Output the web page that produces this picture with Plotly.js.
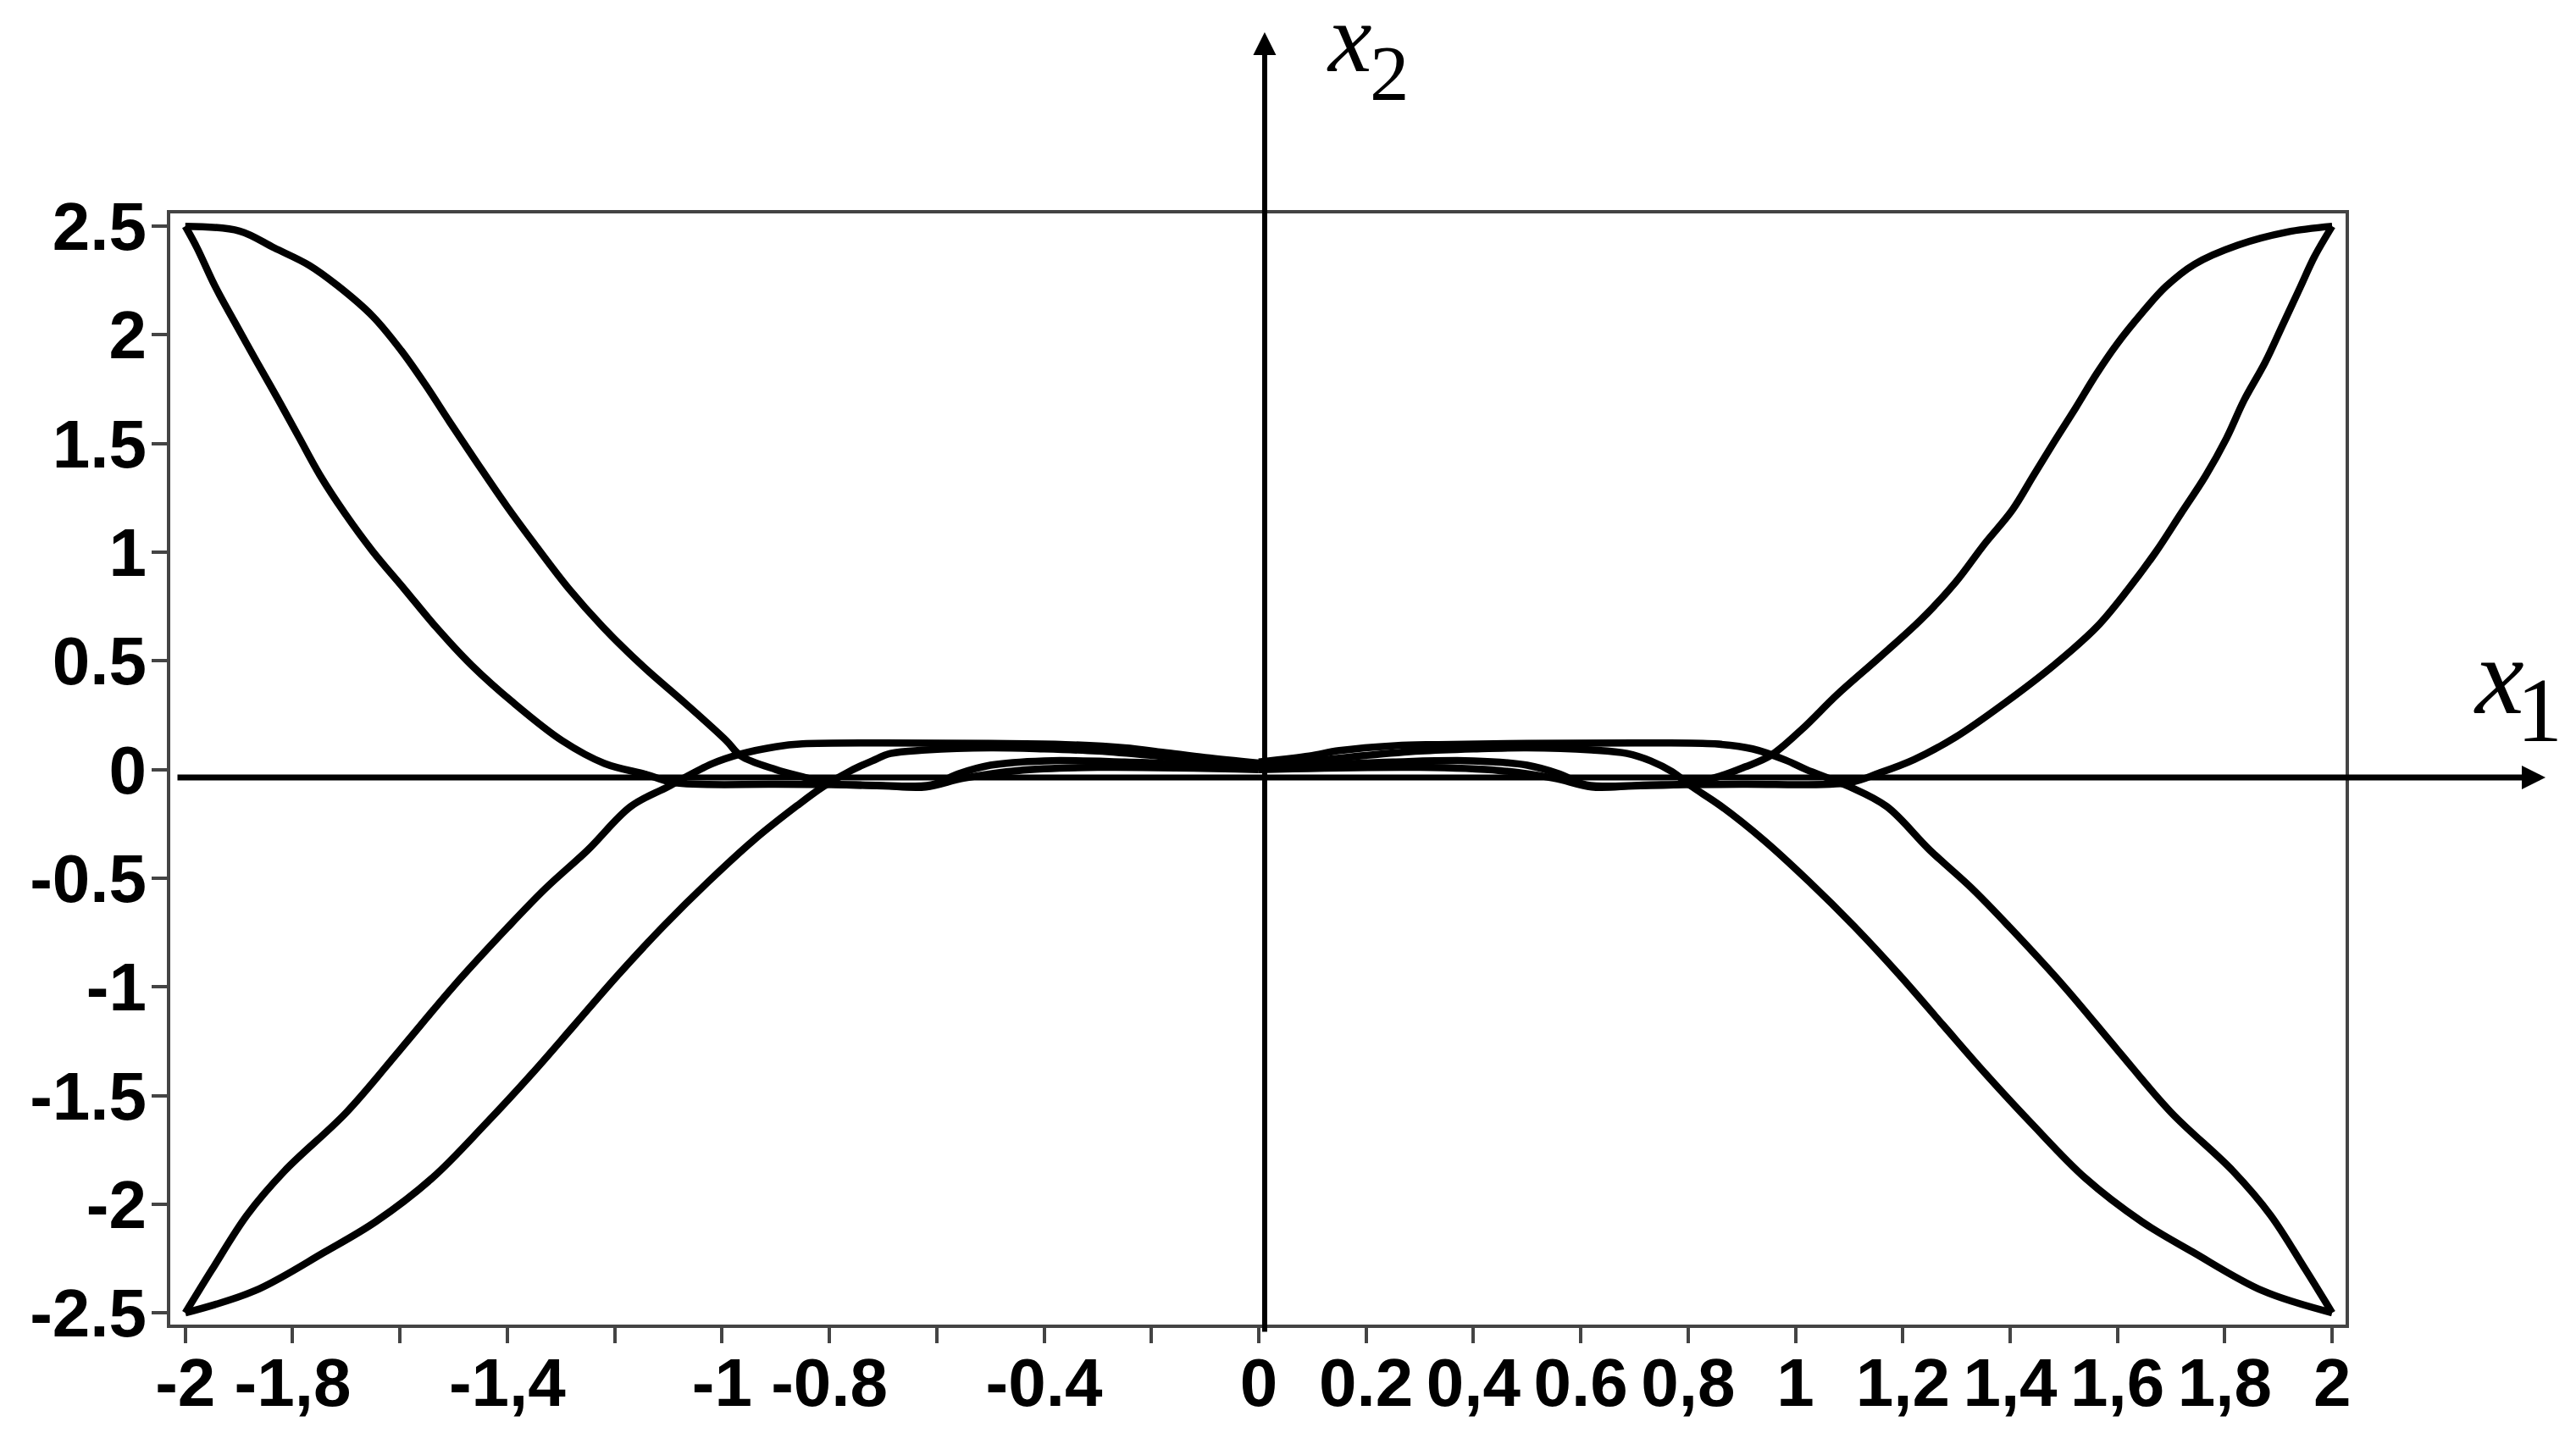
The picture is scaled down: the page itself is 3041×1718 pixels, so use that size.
<!DOCTYPE html>
<html>
<head>
<meta charset="utf-8">
<script src="https://cdn.plot.ly/plotly-3.0.1.min.js"></script>
<style>body{margin:0;background:#fff;}</style>
</head>
<body>
<div id="phase" style="width:3041px;height:1718px;"></div>
<script>
// tick positions and labels as printed on the figure
var xTickVals = [-2, -1.8, -1.6, -1.4, -1.2, -1, -0.8, -0.6, -0.4, -0.2, 0,
                 0.2, 0.4, 0.6, 0.8, 1, 1.2, 1.4, 1.6, 1.8, 2];
var xTickText = ["-2", "-1,8", "", "-1,4", "", "-1", "-0.8", "", "-0.4", "", "0",
                 "0.2", "0,4", "0.6", "0,8", "1", "1,2", "1,4", "1,6", "1,8", "2"];
var yTickVals = [-2.5, -2, -1.5, -1, -0.5, 0, 0.5, 1, 1.5, 2, 2.5];
var yTickText = ["-2.5", "-2", "-1.5", "-1", "-0.5", "0", "0.5", "1", "1.5", "2", "2.5"];

// top-left lobe
var tlInnerX = [-2.0, -1.978, -1.945, -1.906, -1.867, -1.827, -1.788, -1.749, -1.703, -1.651, -1.592,
                -1.533, -1.467, -1.389, -1.298, -1.219, -1.141, -1.09, -0.9, -0.75, -0.61,
                -0.56, -0.5, -0.4, -0.25, 0.0];
var tlInnerY = [2.5, 2.40, 2.226, 2.05, 1.877, 1.703, 1.528, 1.354, 1.18, 1.005, 0.831,
                0.656, 0.481, 0.308, 0.133, 0.028, -0.023, -0.06, -0.068, -0.07, -0.07,
                -0.02, 0.02, 0.04, 0.035, 0.01];
var tlOuterX = [-2.0, -1.899, -1.834, -1.769, -1.716, -1.651, -1.598, -1.553, -1.507, -1.455, -1.402,
                -1.350, -1.285, -1.222, -1.15, -1.07, -0.992, -0.965, -0.90, -0.84, -0.80,
                -0.70, -0.62, -0.55, -0.45, -0.3, 0.0];
var tlOuterY = [2.5, 2.478, 2.40, 2.32, 2.226, 2.086, 1.929, 1.772, 1.598, 1.406, 1.215,
                1.04, 0.831, 0.656, 0.481, 0.308, 0.133, 0.063, 0.0, -0.04, -0.065,
                -0.075, -0.08, -0.04, -0.005, 0.01, 0.0];

// bottom-left lobe
var blOuterX = [-2.0, -1.95, -1.885, -1.815, -1.70, -1.60, -1.50, -1.40, -1.33, -1.25, -1.17,
                -1.10, -1.018, -0.967, -0.90, -0.85, -0.7, -0.5, -0.36, -0.25, -0.18, -0.1, 0.0];
var blOuterY = [-2.5, -2.30, -2.05, -1.847, -1.578, -1.29, -0.997, -0.728, -0.55, -0.37, -0.17,
                -0.078, 0.027, 0.07, 0.105, 0.118, 0.122, 0.12, 0.115, 0.10, 0.08, 0.055, 0.03];
var blInnerX = [-2.0, -1.87, -1.74, -1.645, -1.54, -1.44, -1.355, -1.275, -1.195, -1.11, -1.025,
                -0.94, -0.86, -0.811, -0.76, -0.72, -0.686, -0.62, -0.5, -0.4, -0.3,
                -0.2, -0.1, 0.0];
var blInnerY = [-2.5, -2.398, -2.22, -2.08, -1.88, -1.629, -1.402, -1.176, -0.949, -0.723, -0.515,
                -0.323, -0.166, -0.078, -0.005, 0.04, 0.074, 0.09, 0.1, 0.095, 0.085,
                0.065, 0.04, 0.02];

// top-right lobe
var trOuterX = [2.0, 1.915, 1.824, 1.744, 1.69, 1.645, 1.60, 1.561, 1.522, 1.482, 1.443,
                1.404, 1.352, 1.299, 1.234, 1.156, 1.077, 1.012, 0.953, 0.906, 0.86,
                0.80, 0.70, 0.62, 0.55, 0.45, 0.3, 0.0];
var trOuterY = [2.5, 2.473, 2.413, 2.326, 2.222, 2.099, 1.961, 1.821, 1.664, 1.508, 1.351,
                1.194, 1.037, 0.864, 0.69, 0.515, 0.343, 0.185, 0.063, 0.012, -0.03,
                -0.065, -0.075, -0.08, -0.04, -0.005, 0.01, 0.0];
var trInnerX = [2.0, 1.967, 1.941, 1.908, 1.875, 1.836, 1.803, 1.764, 1.718, 1.672, 1.620,
                1.561, 1.482, 1.391, 1.299, 1.221, 1.156, 1.10, 0.9, 0.75, 0.61,
                0.56, 0.5, 0.4, 0.25, 0.0];
var trInnerY = [2.5, 2.36, 2.222, 2.047, 1.873, 1.70, 1.524, 1.351, 1.177, 1.003, 0.83,
                0.655, 0.481, 0.308, 0.15, 0.046, -0.016, -0.06, -0.068, -0.07, -0.07,
                -0.02, 0.02, 0.04, 0.035, 0.01];

// bottom-right lobe
var brOuterX = [2.0, 1.95, 1.885, 1.815, 1.70, 1.60, 1.50, 1.40, 1.33, 1.25, 1.17,
                1.10, 1.02, 0.982, 0.92, 0.85, 0.7, 0.5, 0.335, 0.255, 0.15, 0.094, 0.0];
var brOuterY = [-2.5, -2.30, -2.05, -1.847, -1.578, -1.29, -0.997, -0.728, -0.55, -0.37, -0.17,
                -0.078, 0.0, 0.043, 0.095, 0.118, 0.122, 0.12, 0.115, 0.11, 0.087, 0.062, 0.035];
var brInnerX = [2.0, 1.87, 1.74, 1.645, 1.54, 1.44, 1.355, 1.275, 1.195, 1.11, 1.025,
                0.94, 0.86, 0.805, 0.77, 0.73, 0.686, 0.62, 0.5, 0.4, 0.3, 0.2, 0.1, 0.0];
var brInnerY = [-2.5, -2.398, -2.22, -2.08, -1.88, -1.629, -1.402, -1.176, -0.949, -0.723, -0.515,
                -0.323, -0.166, -0.075, -0.01, 0.04, 0.074, 0.09, 0.1, 0.095, 0.085, 0.065, 0.04, 0.02];

function curve(x, y) {
  return {
    type: "scatter",
    mode: "lines",
    x: x,
    y: y,
    line: { color: "#000", width: 8.5, shape: "spline", smoothing: 1 },
    hoverinfo: "skip",
    showlegend: false
  };
}

var data = [
  curve(tlInnerX, tlInnerY), curve(tlOuterX, tlOuterY),
  curve(blOuterX, blOuterY), curve(blInnerX, blInnerY),
  curve(trOuterX, trOuterY), curve(trInnerX, trInnerY),
  curve(brOuterX, brOuterY), curve(brInnerX, brInnerY)
];

var tickFont = { family: "Liberation Sans, Arial, sans-serif", size: 80, color: "#000", weight: "bold" };

// plot area: 201..2769 px across, 252..1564 px down
var layout = {
  width: 3041,
  height: 1718,
  margin: { l: 201, r: 272, t: 252, b: 154 },
  paper_bgcolor: "#fff",
  plot_bgcolor: "#fff",
  xaxis: {
    range: [-2.028, 2.025],
    tickmode: "array",
    tickvals: xTickVals,
    ticktext: xTickText,
    tickangle: 0,
    tickfont: tickFont,
    ticklabelstandoff: -22,
    ticks: "outside",
    ticklen: 18,
    tickwidth: 4,
    tickcolor: "#444",
    showline: true,
    mirror: true,
    linecolor: "#444",
    linewidth: 4,
    showgrid: false,
    zeroline: false
  },
  yaxis: {
    range: [-2.554, 2.559],
    tickmode: "array",
    tickvals: yTickVals,
    ticktext: yTickText,
    tickfont: tickFont,
    ticklabelstandoff: -10,
    ticks: "outside",
    ticklen: 18,
    tickwidth: 4,
    tickcolor: "#444",
    showline: true,
    mirror: true,
    linecolor: "#444",
    linewidth: 4,
    showgrid: false,
    zeroline: false
  },
  annotations: [
    // x1 axis arrow (runs past the frame)
    { xref: "paper", yref: "paper", x: 1.0919, y: 0.4924, ax: -2797, ay: 0,
      text: "", showarrow: true, arrowhead: 2, arrowsize: 0.8, arrowwidth: 7, arrowcolor: "#000" },
    // x2 axis arrow
    { xref: "paper", yref: "paper", x: 0.5031, y: 1.1631, ax: 0, ay: 1536,
      text: "", showarrow: true, arrowhead: 2, arrowsize: 0.9, arrowwidth: 6, arrowcolor: "#000" },
    // axis names
    { xref: "paper", yref: "paper", x: 0.5422, y: 1.1578, xanchor: "center", yanchor: "middle",
      text: "<i>x</i>", showarrow: false, font: { family: "Liberation Serif, serif", size: 116, color: "#000" } },
    { xref: "paper", yref: "paper", x: 0.5607, y: 1.1261, xanchor: "center", yanchor: "middle",
      text: "2", showarrow: false, font: { family: "Liberation Serif, serif", size: 93, color: "#000" } },
    { xref: "paper", yref: "paper", x: 1.0703, y: 0.5838, xanchor: "center", yanchor: "middle",
      text: "<i>x</i>", showarrow: false, font: { family: "Liberation Serif, serif", size: 130, color: "#000" } },
    { xref: "paper", yref: "paper", x: 1.0890, y: 0.5530, xanchor: "center", yanchor: "middle",
      text: "1", showarrow: false, font: { family: "Liberation Serif, serif", size: 108, color: "#000" } }
  ]
};

Plotly.newPlot("phase", data, layout, { staticPlot: true });
</script>
</body>
</html>
